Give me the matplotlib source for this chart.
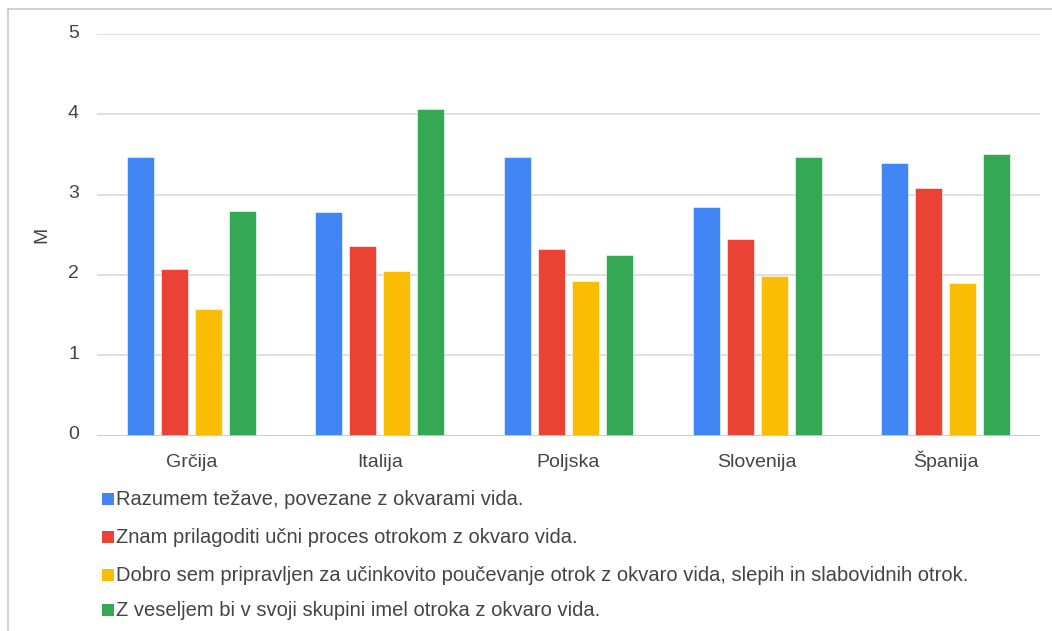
import matplotlib
matplotlib.use("Agg")
import matplotlib.pyplot as plt
import matplotlib.transforms as mtransforms
from matplotlib.patches import Rectangle
import numpy as np

plt.rcParams['font.family'] = ['Liberation Sans', 'DejaVu Sans']

countries = ["Grčija", "Italija", "Poljska", "Slovenija", "Španija"]
series_names = [
    "Razumem težave, povezane z okvarami vida.",
    "Znam prilagoditi učni proces otrokom z okvaro vida.",
    "Dobro sem pripravljen za učinkovito poučevanje otrok z okvaro vida, slepih in slabovidnih otrok.",
    "Z veseljem bi v svoji skupini imel otroka z okvaro vida.",
]
razumem = [3.47, 2.78, 3.47, 2.85, 3.39]
znam = [2.07, 2.36, 2.32, 2.45, 3.08]
pripravljen = [1.57, 2.05, 1.92, 1.99, 1.90]
veseljem = [2.80, 4.06, 2.25, 3.47, 3.50]
y_ticks = [0, 1, 2, 3, 4, 5]

series = [razumem, znam, pripravljen, veseljem]
colors = ["#4285F4", "#EA4335", "#FBBC04", "#34A853"]
text_color = "#444444"

W, H = 1052, 631
fig = plt.figure(figsize=(W / 100, H / 100), dpi=100)

# outer frame (top and left edges visible)
fig.add_artist(plt.Line2D([7.5 / W, 7.5 / W], [0, 1 - 8.5 / H], transform=fig.transFigure,
                          color="#c8c8c8", lw=1.2))
fig.add_artist(plt.Line2D([7.5 / W, 1], [1 - 8.5 / H, 1 - 8.5 / H], transform=fig.transFigure,
                          color="#c8c8c8", lw=1.2))

left, right = 97 / W, 1040 / W
bottom, top = 1 - 435.5 / H, 1 - 34 / H
ax = fig.add_axes([left, bottom, right - left, top - bottom])

x = np.arange(len(countries))
pitch = 0.18
width = 0.143
for i, (vals, c) in enumerate(zip(series, colors)):
    offs = (i - 1.5) * pitch
    ax.bar(x + offs, vals, width=width, color=c, edgecolor="white", linewidth=0.4,
           zorder=3, label=series_names[i])

ax.set_xlim(-0.5, len(countries) - 0.5)
ax.set_ylim(0, 5)
ax.set_yticks(y_ticks)
ax.set_yticklabels([str(t) for t in y_ticks])
ax.set_xticks(x)
ax.set_xticklabels(countries)
ax.grid(axis="y", color="#dadada", linewidth=1.2, zorder=0)
ax.axhline(0, color="#cccccc", linewidth=1.3, zorder=4)
for s in ax.spines.values():
    s.set_visible(False)
ax.tick_params(axis="both", length=0, labelsize=14, colors=text_color)
ax.tick_params(axis="y", pad=13)
ax.tick_params(axis="x", pad=23)

# category labels share one baseline regardless of accents
for lbl in ax.get_xticklabels():
    lbl.set_va("baseline")

# nudge y tick labels slightly above their grid lines
shift_up = mtransforms.ScaledTranslation(0, 3 / 100, fig.dpi_scale_trans)
for lbl in ax.get_yticklabels():
    lbl.set_transform(lbl.get_transform() + shift_up)

ax.set_ylabel("M", fontsize=14, color=text_color)
ax.yaxis.set_label_coords((50 - 97) / (1040 - 97), 0.5)

# legend rows below the plot
baselines = [505, 543, 581, 616]
for name, c, yb in zip(series_names, colors, baselines):
    fig.add_artist(Rectangle((102 / W, 1 - yb / H), 12 / W, 12.5 / H,
                             transform=fig.transFigure, color=c, lw=0))
    fig.text(116 / W, 1 - yb / H, name, fontsize=14.5, color=text_color,
             va="baseline", ha="left")

fig.savefig("out.png", dpi=100, facecolor="white")
